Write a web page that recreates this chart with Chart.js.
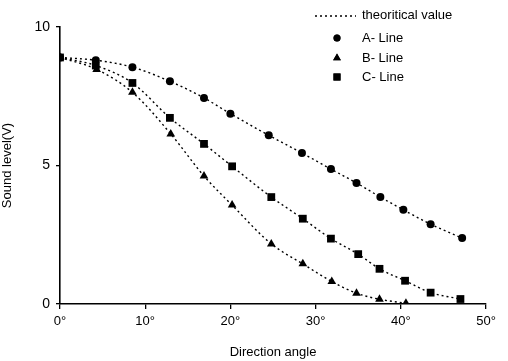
<!DOCTYPE html>
<html>
<head>
<meta charset="utf-8">
<script src="https://cdn.jsdelivr.net/npm/chart.js@4.4.0/dist/chart.umd.min.js"></script>
<style>
  html, body { margin: 0; padding: 0; background: #fff; }
  #wrap { width: 508px; height: 361px; }
</style>
</head>
<body>
<div id="wrap"><canvas id="myChart" width="508" height="361"></canvas></div>
<script>
// values (angle in degrees, sound level in V)
const aAngles = [0, 4.2, 8.5, 12.9, 16.9, 20.0, 24.5, 28.4, 31.8, 34.8, 37.6, 40.3, 43.5, 47.2];
const aValues = [8.9, 8.8, 8.55, 8.04, 7.44, 6.87, 6.09, 5.45, 4.87, 4.37, 3.86, 3.4, 2.88, 2.38];

const bAngles = [0, 4.3, 8.5, 13.0, 16.9, 20.2, 24.8, 28.5, 31.9, 34.8, 37.5, 40.6];
const bValues = [8.9, 8.47, 7.64, 6.14, 4.62, 3.57, 2.17, 1.45, 0.81, 0.39, 0.17, 0.03];

const cAngles = [0, 4.2, 8.5, 12.9, 16.9, 20.2, 24.8, 28.5, 31.8, 35.0, 37.5, 40.5, 43.5, 47.0];
const cValues = [8.9, 8.61, 7.98, 6.72, 5.78, 4.97, 3.86, 3.08, 2.36, 1.8, 1.27, 0.84, 0.41, 0.18];

const seriesNames = ['A- Line', 'B- Line', 'C- Line'];
const seriesMarkers = ['circle', 'triangle', 'rect'];
const markerSizes = [4, 5, 5.5];
const theoryLabel = 'theoritical value';
const xTicks = [0, 10, 20, 30, 40, 50];
const yTicks = [0, 5, 10];

function pts(xs, ys) {
  return xs.map((x, i) => ({ x: x, y: ys[i] }));
}

const allSeries = [pts(aAngles, aValues), pts(bAngles, bValues), pts(cAngles, cValues)];

const datasets = [];
// dotted theoretical curves
allSeries.forEach((d) => {
  datasets.push({
    label: theoryLabel,
    data: d,
    showLine: true,
    borderColor: '#000',
    borderWidth: 1.4,
    borderDash: [2, 3],
    cubicInterpolationMode: 'monotone',
    pointRadius: 0,
    order: 2
  });
});
// measured points
allSeries.forEach((d, i) => {
  datasets.push({
    label: seriesNames[i],
    data: d,
    showLine: false,
    pointStyle: seriesMarkers[i],
    pointRadius: markerSizes[i],
    backgroundColor: '#000',
    borderColor: '#000',
    borderWidth: 0,
    order: 1
  });
});

const font = "'Liberation Sans', Arial, sans-serif";

// legend drawn in the top right corner like the original
const legendPlugin = {
  id: 'cornerLegend',
  afterDraw(chart) {
    const ctx = chart.ctx;
    ctx.save();
    ctx.fillStyle = '#000';
    ctx.strokeStyle = '#000';
    ctx.font = '13px ' + font;
    ctx.textBaseline = 'middle';
    ctx.lineWidth = 1.4;
    ctx.setLineDash([2, 3]);
    ctx.beginPath();
    ctx.moveTo(315, 16);
    ctx.lineTo(356, 16);
    ctx.stroke();
    ctx.setLineDash([]);
    ctx.fillText(theoryLabel, 362, 15);
    const rows = [38, 58, 77];
    seriesNames.forEach((name, i) => {
      Chart.helpers.drawPoint(ctx, {
        pointStyle: seriesMarkers[i],
        radius: markerSizes[i] - 0.5,
        borderWidth: 0
      }, 337, rows[i]);
      ctx.fill();
      ctx.fillText(name, 362, rows[i]);
    });
    ctx.restore();
  }
};

new Chart(document.getElementById('myChart'), {
  type: 'scatter',
  data: { datasets: datasets },
  plugins: [legendPlugin],
  options: {
    responsive: false,
    animation: false,
    layout: { padding: { left: 0, right: 22, top: 27, bottom: 0 } },
    plugins: {
      legend: { display: false },
      tooltip: { enabled: false }
    },
    scales: {
      x: {
        type: 'linear',
        min: 0,
        max: 50,
        afterFit: (s) => { s.height = 57; },
        afterBuildTicks: (s) => { s.ticks = xTicks.map(v => ({ value: v })); },
        ticks: {
          color: '#000',
          font: { family: font, size: 13 },
          padding: 5,
          callback: (v) => v + '°'
        },
        grid: { drawOnChartArea: false, drawTicks: true, tickLength: 5, color: '#000', lineWidth: 1.3 },
        border: { display: true, color: '#000', width: 1.6 },
        title: {
          display: true,
          text: 'Direction angle',
          color: '#000',
          font: { family: font, size: 13 },
          padding: { top: 4, bottom: 1 }
        }
      },
      y: {
        min: 0,
        max: 10,
        afterFit: (s) => { s.width = 60; },
        afterBuildTicks: (s) => { s.ticks = yTicks.map(v => ({ value: v })); },
        ticks: {
          color: '#000',
          font: { family: font, size: 14 },
          padding: 6
        },
        grid: { drawOnChartArea: false, drawTicks: true, tickLength: 4, color: '#000', lineWidth: 1.3 },
        border: { display: true, color: '#000', width: 1.6 },
        title: {
          display: true,
          text: 'Sound level(V)',
          color: '#000',
          font: { family: font, size: 13 },
          padding: { top: 0, bottom: 4 }
        }
      }
    }
  }
});
</script>
</body>
</html>
